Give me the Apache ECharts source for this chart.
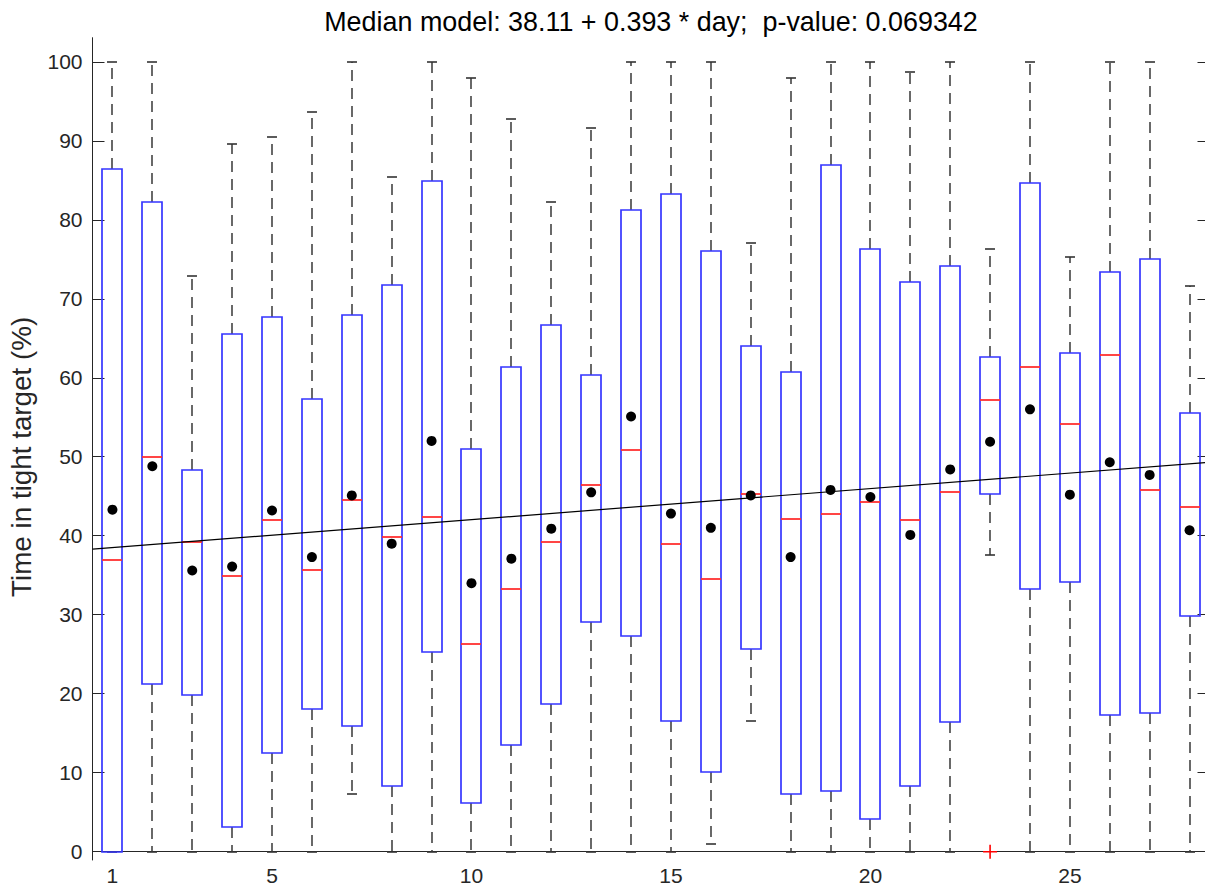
<!DOCTYPE html>
<html>
<head>
<meta charset="utf-8">
<script src="https://cdn.jsdelivr.net/npm/echarts@6/dist/echarts.min.js"></script>
<style>
html, body { margin: 0; padding: 0; background: #fff; }
#echart { width: 1205px; height: 887px; }
</style>
</head>
<body>
<div id="echart"></div>
<script>
var dom = document.getElementById("echart");
var myChart = echarts.init(dom, null, { renderer: 'svg' });

// one box per day
let days = [1, 2, 3, 4, 5, 6, 7, 8, 9, 10, 11, 12, 13, 14, 15, 16, 17, 18, 19, 20, 21, 22, 23, 24, 25, 26, 27, 28];
let whiskerLow = [0, 0, 0, 0, 0, 0, 7.3, 0, 0, 0, 0, 0, 0, 0, 0, 1.0, 16.5, 0, 0, 0, 0, 0, 37.6, 0, 0, 0, 0, 0];
let q1 = [0, 21.2, 19.8, 3.1, 12.5, 18.1, 15.9, 8.3, 25.3, 6.2, 13.5, 18.7, 29.1, 27.3, 16.6, 10.1, 25.6, 7.3, 7.7, 4.1, 8.3, 16.4, 45.3, 33.2, 34.1, 17.3, 17.5, 29.9];
let median = [36.9, 50.0, 39.2, 34.9, 42.0, 35.7, 44.5, 39.9, 42.4, 26.3, 33.3, 39.2, 46.4, 50.8, 38.9, 34.5, 45.3, 42.1, 42.7, 44.3, 42.0, 45.6, 57.2, 61.4, 54.2, 62.9, 45.8, 43.7];
let q3 = [86.4, 82.3, 48.3, 65.6, 67.7, 57.3, 68.0, 71.7, 84.9, 51.0, 61.4, 66.7, 60.4, 81.2, 83.3, 76.0, 64.0, 60.7, 86.9, 76.3, 72.1, 74.1, 62.6, 84.7, 63.1, 73.4, 75.0, 55.5];
let whiskerHigh = [100, 100, 72.9, 89.6, 90.5, 93.7, 100, 85.4, 100, 97.9, 92.7, 82.2, 91.6, 100, 100, 100, 77.0, 97.9, 100, 100, 98.7, 100, 76.3, 100, 75.3, 100, 100, 71.6];
let mean = [43.3, 48.8, 35.6, 36.1, 43.2, 37.3, 45.1, 39.0, 52.0, 34.0, 37.1, 40.9, 45.5, 55.1, 42.8, 41.0, 45.1, 37.3, 45.8, 44.9, 40.1, 48.4, 51.9, 56.0, 45.2, 49.3, 47.7, 40.7];
let outlierDays = [23];
let outlierValues = [0];

// median model from the title
let intercept = 38.11;
let slope = 0.393;

let xTicks = [1, 5, 10, 15, 20, 25];
let yTicks = [0, 10, 20, 30, 40, 50, 60, 70, 80, 90, 100];

let xMin = 0.5, xMax = 28.5;
let yMin = -1.05, yMax = 103.05;

let font = 'Liberation Sans, Arial, Helvetica, sans-serif';
let axisColor = '#262626';

let boxData = [];
let meanData = [];
for (let i = 0; i < days.length; i++) {
    boxData.push([days[i], whiskerLow[i], q1[i], median[i], q3[i], whiskerHigh[i]]);
    meanData.push([days[i], mean[i]]);
}
let outlierData = [];
for (let i = 0; i < outlierDays.length; i++) {
    outlierData.push([outlierDays[i], outlierValues[i]]);
}
let fitData = [
    [xMin, intercept + slope * xMin],
    [xMax, intercept + slope * xMax]
];

// pixel geometry of one box
function boxGeom(api) {
    var x = api.value(0);
    var lo = api.coord([x, api.value(1)]);
    var b1 = api.coord([x, api.value(2)]);
    var md = api.coord([x, api.value(3)]);
    var b3 = api.coord([x, api.value(4)]);
    var hi = api.coord([x, api.value(5)]);
    var boxW = api.size([0.5, 0])[0];
    var capW = api.size([0.25, 0])[0];
    var cx = Math.round(lo[0]);
    return {
        cx: cx,
        left: Math.round(cx - boxW / 2),
        right: Math.round(cx + boxW / 2),
        capL: cx - capW / 2,
        capR: cx + capW / 2,
        lo: Math.round(lo[1]), q1: Math.round(b1[1]), md: Math.round(md[1]),
        q3: Math.round(b3[1]), hi: Math.round(hi[1])
    };
}

function renderWhiskers(params, api) {
    var g = boxGeom(api);
    return {
        type: 'group',
        children: [
            { type: 'line', shape: { x1: g.cx, y1: g.q3, x2: g.cx, y2: g.hi }, style: { stroke: '#444', fill: 'none', lineWidth: 1.6, lineDash: [11, 7] } },
            { type: 'line', shape: { x1: g.cx, y1: g.q1, x2: g.cx, y2: g.lo }, style: { stroke: '#444', fill: 'none', lineWidth: 1.6, lineDash: [11, 7] } }
        ]
    };
}

function renderCaps(params, api) {
    var g = boxGeom(api);
    return {
        type: 'group',
        children: [
            { type: 'line', shape: { x1: g.capL, y1: g.hi, x2: g.capR, y2: g.hi }, style: { stroke: '#333', fill: 'none', lineWidth: 1.6 } },
            { type: 'line', shape: { x1: g.capL, y1: g.lo, x2: g.capR, y2: g.lo }, style: { stroke: '#333', fill: 'none', lineWidth: 1.6 } }
        ]
    };
}

function renderBoxes(params, api) {
    var g = boxGeom(api);
    return {
        type: 'rect',
        shape: { x: g.left, y: g.q3, width: g.right - g.left, height: g.q1 - g.q3 },
        style: { fill: 'none', stroke: '#3535ff', lineWidth: 1.7 }
    };
}

function renderMedians(params, api) {
    var g = boxGeom(api);
    return {
        type: 'line',
        shape: { x1: g.left, y1: g.md, x2: g.right, y2: g.md },
        style: { stroke: '#ff3030', fill: 'none', lineWidth: 1.8 }
    };
}

var option = {
    animation: false,
    backgroundColor: '#fff',
    title: {
        text: 'Median model: 38.11 + 0.393 * day;  p-value: 0.069342',
        left: 651,
        top: 8,
        padding: 0,
        textAlign: 'center',
        textStyle: { fontFamily: font, fontSize: 26.9, fontWeight: 'normal', color: '#000' }
    },
    grid: {
        left: 92.5,
        top: 37.7,
        width: 1117,
        bottom: 27,
        outerBoundsMode: 'none',
        containLabel: false
    },
    xAxis: [
        {
            type: 'value',
            min: xMin,
            max: xMax,
            position: 'bottom',
            axisLine: { show: true, lineStyle: { color: axisColor, width: 1 } },
            axisTick: { show: false },
            splitLine: { show: false },
            axisLabel: {
                customValues: xTicks,
                color: axisColor,
                fontFamily: font,
                fontSize: 21,
                lineHeight: 16,
                margin: 7
            }
        },
        {
            type: 'value',
            min: xMin,
            max: xMax,
            position: 'top',
            axisLine: { show: true, lineStyle: { color: axisColor, width: 1 } },
            axisTick: { show: false },
            splitLine: { show: false },
            axisLabel: { show: false }
        }
    ],
    yAxis: [
        {
            type: 'value',
            min: yMin,
            max: yMax,
            position: 'left',
            name: 'Time in tight target (%)',
            nameLocation: 'middle',
            nameRotate: 90,
            nameGap: 57,
            nameTextStyle: { fontFamily: font, fontSize: 27.8, color: axisColor, padding: [0, 16, 0, 0] },
            axisLine: { show: true, lineStyle: { color: axisColor, width: 1 } },
            axisTick: { show: true, inside: true, length: 12, customValues: yTicks, lineStyle: { color: axisColor } },
            splitLine: { show: false },
            axisLabel: {
                customValues: yTicks,
                color: axisColor,
                fontFamily: font,
                fontSize: 21,
                margin: 10
            }
        },
        {
            type: 'value',
            min: yMin,
            max: yMax,
            position: 'right',
            axisLine: { show: true, lineStyle: { color: axisColor, width: 1 } },
            axisTick: { show: true, inside: true, length: 12, customValues: yTicks, lineStyle: { color: axisColor } },
            splitLine: { show: false },
            axisLabel: { show: false }
        }
    ],
    series: [
        {
            type: 'custom',
            renderItem: renderWhiskers,
            encode: { x: 0, y: [1, 2, 3, 4, 5] },
            data: boxData,
            clip: false,
            z: 2
        },
        {
            type: 'custom',
            renderItem: renderCaps,
            encode: { x: 0, y: [1, 2, 3, 4, 5] },
            data: boxData,
            clip: false,
            z: 3
        },
        {
            type: 'custom',
            renderItem: renderBoxes,
            encode: { x: 0, y: [1, 2, 3, 4, 5] },
            data: boxData,
            clip: false,
            z: 4
        },
        {
            type: 'custom',
            renderItem: renderMedians,
            encode: { x: 0, y: [1, 2, 3, 4, 5] },
            data: boxData,
            clip: false,
            z: 5
        },
        {
            type: 'line',
            data: fitData,
            symbol: 'none',
            lineStyle: { color: '#000', width: 1.2 },
            z: 6
        },
        {
            type: 'scatter',
            data: meanData,
            symbol: 'circle',
            symbolSize: 10,
            itemStyle: { color: '#000', opacity: 1 },
            z: 7
        },
        {
            type: 'scatter',
            data: outlierData,
            symbol: 'path://M6.2,0h1.6v14h-1.6z M0,6.2h14v1.6h-14z',
            symbolSize: 14,
            itemStyle: { color: '#ff0000', opacity: 1 },
            z: 7
        }
    ]
};

if (option && typeof option === 'object') {
    myChart.setOption(option);
}
</script>
</body>
</html>
